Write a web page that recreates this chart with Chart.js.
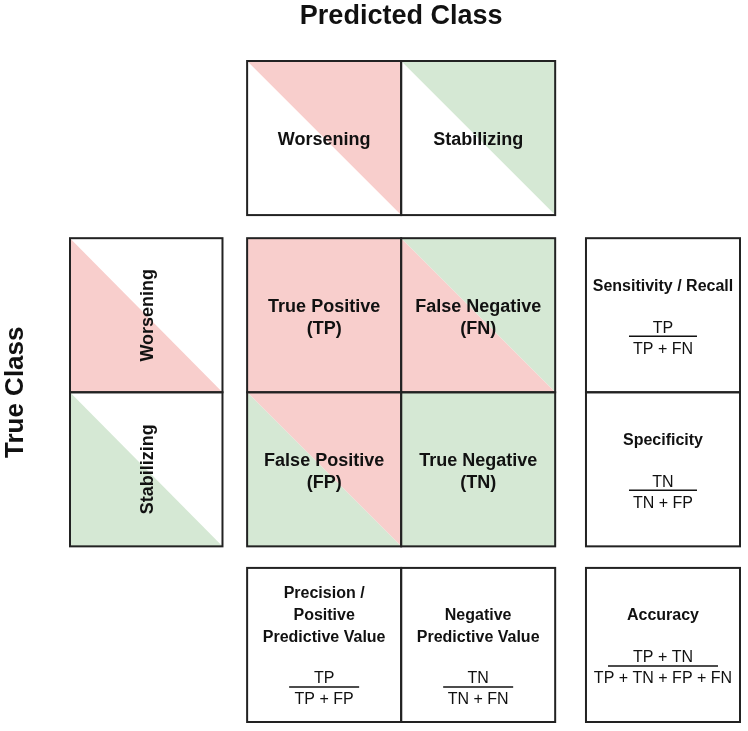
<!DOCTYPE html>
<html>
<head>
<meta charset="utf-8">
<script src="https://cdn.jsdelivr.net/npm/chart.js@4"></script>
<style>
  body { margin: 0; background: #fff; }
  #wrap { width: 748px; height: 731px; position: relative; }
</style>
</head>
<body>
<div id="wrap"><canvas id="matrixChart"></canvas></div>
<script>
// class labels and their fill colours
const classes = ["Worsening", "Stabilizing"];
const classFills = ["#f8cecc", "#d5e8d4"];

// confusion matrix cells, row = true class, col = predicted class
const outcomeLines = [
    [["True Positive", "(TP)"], ["False Negative", "(FN)"]],
    [["False Positive", "(FP)"], ["True Negative", "(TN)"]],
];

// metrics per row (right side)
const rowMetricTitles = [["Sensitivity / Recall"], ["Specificity"]];
const rowMetricNum = ["TP", "TN"];
const rowMetricDen = ["TP + FN", "TN + FP"];

// metrics per column (bottom)
const colMetricTitles = [["Precision /", "Positive", "Predictive Value"], ["Negative", "Predictive Value"]];
const colMetricNum = ["TP", "TN"];
const colMetricDen = ["TP + FP", "TN + FN"];

// overall metric
const accuracyTitle = ["Accuracy"];
const accuracyNum = "TP + TN";
const accuracyDen = "TP + TN + FP + FN";

const axisTitles = { x: "Predicted Class", y: "True Class" };

// layout in cell units (matrix cells span 0..2 on both axes)
const headBand = [-1.15, -0.15];
const leftBand = [-1.15, -0.16];
const rightBand = [2.2, 3.2];
const bottomBand = [2.14, 3.14];

const FONT = "'Liberation Sans', Arial, Helvetica, sans-serif";
const INK = "#111";
const EDGE = "#222";

// points at cell centres so the matrix lives in the chart data
const cellPoints = [];
classes.forEach((_, r) => classes.forEach((_, c) => cellPoints.push({ x: c + 0.5, y: r + 0.5 })));

tri = (ctx, x0, y0, x1, y1, part, color) => {
    ctx.fillStyle = color;
    ctx.beginPath();
    if (part === "upper") {
        ctx.moveTo(x0, y0); ctx.lineTo(x1, y0); ctx.lineTo(x1, y1);
    } else {
        ctx.moveTo(x0, y0); ctx.lineTo(x0, y1); ctx.lineTo(x1, y1);
    }
    ctx.closePath();
    ctx.fill();
};

box = (ctx, x0, y0, x1, y1) => {
    ctx.strokeStyle = EDGE;
    ctx.lineWidth = 2;
    ctx.strokeRect(x0, y0, x1 - x0, y1 - y0);
};

lines = (ctx, arr, cx, cy, size, bold, gap) => {
    ctx.fillStyle = INK;
    ctx.font = (bold ? "bold " : "") + size + "px " + FONT;
    ctx.textAlign = "center";
    ctx.textBaseline = "middle";
    const start = cy - ((arr.length - 1) * gap) / 2;
    arr.forEach((t, i) => ctx.fillText(t, cx, start + i * gap));
};

fraction = (ctx, num, den, cx, cy, barW) => {
    ctx.fillStyle = INK;
    ctx.font = "16px " + FONT;
    ctx.textAlign = "center";
    ctx.textBaseline = "middle";
    ctx.fillText(num, cx, cy - 8);
    ctx.fillText(den, cx, cy + 13);
    ctx.strokeStyle = INK;
    ctx.lineWidth = 1.5;
    ctx.beginPath();
    ctx.moveTo(cx - barW / 2, cy);
    ctx.lineTo(cx + barW / 2, cy);
    ctx.stroke();
};

const matrixPlugin = {
    id: "matrixPlugin",
    afterDatasetsDraw(chart) {
        const ctx = chart.ctx;
        const X = (v) => chart.scales.x.getPixelForValue(v);
        const Y = (v) => chart.scales.y.getPixelForValue(v);
        ctx.save();

        // header: predicted class
        classes.forEach((name, c) => {
            const x0 = X(c), x1 = X(c + 1), y0 = Y(headBand[0]), y1 = Y(headBand[1]);
            tri(ctx, x0, y0, x1, y1, "upper", classFills[c]);
            lines(ctx, [name], (x0 + x1) / 2, (y0 + y1) / 2 + 2, 18, true, 22);
        });
        // left: true class
        classes.forEach((name, r) => {
            const x0 = X(leftBand[0]), x1 = X(leftBand[1]), y0 = Y(r), y1 = Y(r + 1);
            tri(ctx, x0, y0, x1, y1, "lower", classFills[r]);
            ctx.save();
            ctx.translate((x0 + x1) / 2 + 2, (y0 + y1) / 2);
            ctx.rotate(-Math.PI / 2);
            lines(ctx, [name], 0, 0, 18, true, 22);
            ctx.restore();
        });
        // matrix cells
        chart.getDatasetMeta(0).data.forEach((pt, i) => {
            const r = Math.floor(i / classes.length), c = i % classes.length;
            const x0 = X(c), x1 = X(c + 1), y0 = Y(r), y1 = Y(r + 1);
            if (r === c) {
                ctx.fillStyle = classFills[r];
                ctx.fillRect(x0, y0, x1 - x0, y1 - y0);
            } else {
                tri(ctx, x0, y0, x1, y1, "upper", classFills[c]);
                tri(ctx, x0, y0, x1, y1, "lower", classFills[r]);
            }
            lines(ctx, outcomeLines[r][c], pt.x, pt.y + 3, 18, true, 22);
        });

        // right: row metrics
        rowMetricTitles.forEach((t, r) => {
            const x0 = X(rightBand[0]), x1 = X(rightBand[1]), y0 = Y(r);
            const cx = (x0 + x1) / 2;
            lines(ctx, t, cx, y0 + 48, 16, true, 21);
            fraction(ctx, rowMetricNum[r], rowMetricDen[r], cx, y0 + 98, 68);
        });
        // bottom: column metrics
        colMetricTitles.forEach((t, c) => {
            const x0 = X(c), x1 = X(c + 1), y0 = Y(bottomBand[0]);
            const cx = (x0 + x1) / 2;
            lines(ctx, t, cx, y0 + 48 + (3 - t.length) * 11, 16, true, 22);
            fraction(ctx, colMetricNum[c], colMetricDen[c], cx, y0 + 119, 70);
        });
        // accuracy
        {
            const x0 = X(rightBand[0]), x1 = X(rightBand[1]), y0 = Y(bottomBand[0]);
            const cx = (x0 + x1) / 2;
            lines(ctx, accuracyTitle, cx, y0 + 48, 16, true, 22);
            fraction(ctx, accuracyNum, accuracyDen, cx, y0 + 98, 110);
        }

        // borders
        classes.forEach((_, c) => box(ctx, X(c), Y(headBand[0]), X(c + 1), Y(headBand[1])));
        classes.forEach((_, r) => box(ctx, X(leftBand[0]), Y(r), X(leftBand[1]), Y(r + 1)));
        classes.forEach((_, r) => classes.forEach((_, c) => box(ctx, X(c), Y(r), X(c + 1), Y(r + 1))));
        classes.forEach((_, r) => box(ctx, X(rightBand[0]), Y(r), X(rightBand[1]), Y(r + 1)));
        classes.forEach((_, c) => box(ctx, X(c), Y(bottomBand[0]), X(c + 1), Y(bottomBand[1])));
        box(ctx, X(rightBand[0]), Y(bottomBand[0]), X(rightBand[1]), Y(bottomBand[1]));

        // axis titles
        lines(ctx, [axisTitles.x], X(1), 17, 27, true, 0);
        ctx.save();
        ctx.translate(16, Y(1));
        ctx.rotate(-Math.PI / 2);
        lines(ctx, [axisTitles.y], 0, 0, 26, true, 0);
        ctx.restore();

        ctx.restore();
    },
};

const config = {
    type: "scatter",
    data: {
        datasets: [
            {
                label: "cells",
                data: cellPoints,
                pointRadius: 0,
                pointHoverRadius: 0,
            },
        ],
    },
    options: {
        responsive: true,
        maintainAspectRatio: false,
        animation: false,
        layout: { padding: { left: 70, right: 8, top: 61, bottom: 9 } },
        plugins: { legend: { display: false }, tooltip: { enabled: false } },
        scales: {
            x: { display: false, min: leftBand[0], max: rightBand[1] },
            y: { display: false, reverse: true, min: headBand[0], max: bottomBand[1] },
        },
    },
    plugins: [matrixPlugin],
};

const matrixChart = new Chart(document.getElementById("matrixChart"), config);
</script>
</body>
</html>
